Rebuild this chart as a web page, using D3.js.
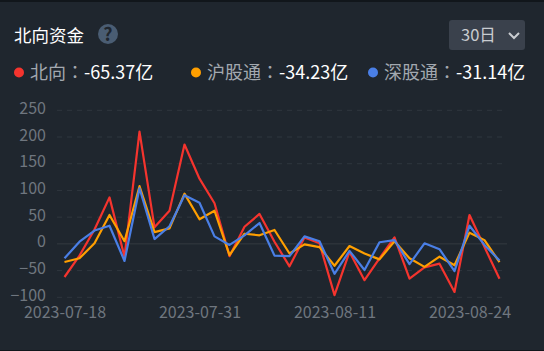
<!DOCTYPE html>
<html>
<head>
<meta charset="utf-8">
<script src="https://cdnjs.cloudflare.com/ajax/libs/d3/7.8.5/d3.min.js"></script>
<style>
  html, body { margin: 0; padding: 0; background: #1f262e; }
  svg { display: block; }
  text { font-family: "Noto Sans CJK SC", "Liberation Sans", sans-serif; }
</style>
</head>
<body>
<div id="chart"></div>
<script>
// values, in 亿
const dates = ["2023-07-18","2023-07-19","2023-07-20","2023-07-21","2023-07-24","2023-07-25",
  "2023-07-26","2023-07-27","2023-07-28","2023-07-31","2023-08-01","2023-08-02","2023-08-03",
  "2023-08-04","2023-08-07","2023-08-08","2023-08-09","2023-08-10","2023-08-11","2023-08-14",
  "2023-08-15","2023-08-16","2023-08-17","2023-08-18","2023-08-21","2023-08-22","2023-08-23",
  "2023-08-24","2023-08-25","2023-08-28"];
const north = [-62,-22,27,87,-24,210,31,62,186,122,76,-23,32,56,4,-42,12,1,-96,-15,-68,-27,12,-65,-44,-37,-90,54,-6,-65.37];
const shanghai = [-34,-27,1,54,5,108,22,29,94,46,62,-21,19,16,26,-18,-1,-6,-41,-4,-18,-29,5,-27,-43,-24,-40,21,7,-34.23];
const shenzhen = [-27,4,25,34,-32,104,9,33,91,77,14,-2,16,39,-22,-23,14,5,-56,-13,-49,3,7,-38,1,-10,-51,34,-2,-31.14];
const yTicks = [-100,-50,0,50,100,150,200,250];
const xLabels = ["2023-07-18","2023-07-31","2023-08-11","2023-08-24"];

const legendNames = ["北向","沪股通","深股通"];
const legendValues = ["-65.37亿","-34.23亿","-31.14亿"];
const seriesColors = ["#f5342e","#ff9f00","#4a7fe6"];

const width = 544, height = 351;
const svg = d3.select("#chart").append("svg")
  .attr("width", width)
  .attr("height", height);

// dark strips at the very top and bottom of the card
svg.append("rect").attr("width", width).attr("height", 2).attr("fill", "#11161b");
svg.append("rect").attr("y", height - 1).attr("width", width).attr("height", 1).attr("fill", "#11161b");

////////////////////////////////////////////////////////////////////////
// Header

svg.append("text")
  .attr("x", 14).attr("y", 42)
  .attr("font-size", 17.5)
  .attr("fill", "#ffffff")
  .text("北向资金");

svg.append("circle")
  .attr("cx", 108).attr("cy", 34).attr("r", 10)
  .attr("fill", "#4a5d73");
svg.append("text")
  .attr("x", 108).attr("y", 40.5)
  .attr("text-anchor", "middle")
  .attr("font-size", 18)
  .attr("font-weight", 700)
  .attr("fill", "#1f262e")
  .text("?");

// period select
svg.append("rect")
  .attr("x", 449).attr("y", 20)
  .attr("width", 76).attr("height", 30)
  .attr("rx", 3)
  .attr("fill", "#3a414c");
svg.append("text")
  .attr("x", 461).attr("y", 41)
  .attr("font-size", 16.5)
  .attr("fill", "#c9ccd0")
  .text("30日");
svg.append("path")
  .attr("d", d3.line()([[509, 33], [514, 38], [519, 33]]))
  .attr("fill", "none")
  .attr("stroke", "#c9ccd0")
  .attr("stroke-width", 2);

// legend row, TC font for the centered full width colon
const legendX = [19, 196, 373];
legendNames.forEach((name, i) => {
  svg.append("circle")
    .attr("cx", legendX[i]).attr("cy", 72.5).attr("r", 5)
    .attr("fill", seriesColors[i]);
  let t = svg.append("text")
    .attr("x", legendX[i] + 11).attr("y", 79)
    .attr("font-size", 18);
  t.append("tspan").attr("fill", "#a3a9b0").text(name);
  t.append("tspan").attr("fill", "#a3a9b0").style("font-family", '"Noto Sans CJK TC"').text("：");
  t.append("tspan").attr("fill", "#ffffff").text(legendValues[i]);
});

////////////////////////////////////////////////////////////////////////
// Scales and axes

const xScale = d3.scalePoint()
  .domain(dates)
  .range([64.5, 499.5]);

const yScale = d3.scaleLinear()
  .domain([-100, 250])
  .range([297.3, 110.3]);

const yAxis = svg.append("g")
  .attr("transform", "translate(46, -2)")
  .call(d3.axisLeft(yScale).tickValues(yTicks).tickSize(0).tickPadding(0));
yAxis.select(".domain").remove();
yAxis.selectAll("text")
  .attr("font-size", 16)
  .attr("font-family", '"Noto Sans CJK SC", sans-serif')
  .attr("fill", "#6f767f");

const xAxis = svg.append("g")
  .attr("transform", "translate(0, 307)")
  .call(d3.axisBottom(xScale).tickValues(xLabels).tickSize(0).tickPadding(0));
xAxis.select(".domain").remove();
xAxis.selectAll("text")
  .attr("font-size", 16)
  .attr("font-family", '"Noto Sans CJK SC", sans-serif')
  .attr("fill", "#6f767f");

// grid, solid at zero and dashed elsewhere
svg.append("g")
  .selectAll("line")
  .data(yTicks)
  .enter()
  .append("line")
  .attr("x1", 57)
  .attr("x2", 507)
  .attr("y1", d => yScale(d))
  .attr("y2", d => yScale(d))
  .attr("stroke", d => d == 0 ? "#343a41" : "#2f363e")
  .attr("stroke-dasharray", d => d == 0 ? null : "5,5");

////////////////////////////////////////////////////////////////////////
// Lines

const line = d3.line()
  .x((d, i) => xScale(dates[i]))
  .y(d => yScale(d));

[north, shanghai, shenzhen].forEach((values, i) => {
  svg.append("path")
    .datum(values)
    .attr("d", line)
    .attr("fill", "none")
    .attr("stroke", seriesColors[i])
    .attr("stroke-width", 2.2)
    .attr("stroke-linejoin", "round");
});
</script>
</body>
</html>
